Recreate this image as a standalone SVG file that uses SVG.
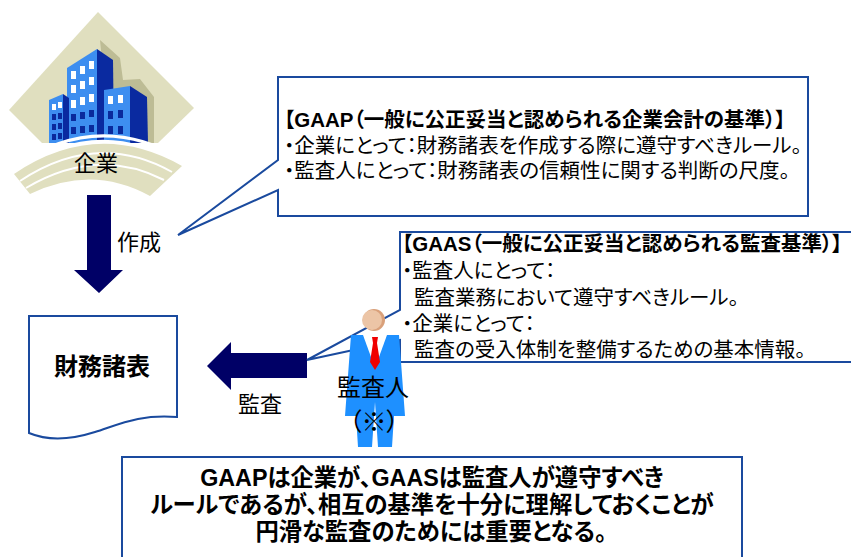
<svg xmlns="http://www.w3.org/2000/svg" width="851" height="557" viewBox="0 0 851 557">
  <style>
    text { font-family: "Liberation Sans", "Noto Sans CJK JP", sans-serif; fill: #000; font-feature-settings: "palt"; }
    .b { font-weight: bold; }
    .box { fill: #fff; stroke: #1a4a9e; stroke-width: 2; }
    .arrow { fill: #000066; }
    .cream { fill: #e0dfbf; }
    .shade { fill: #bdbc95; }
    .front { fill: #3d8ef0; }
    .side { fill: #0a2aa0; }
    .win { fill: #ffffff; }
    .wind { fill: #0a2a9c; }
    .callout { font-size: 20.5px; }
    .sum { font-size: 23.3px; }
  </style>

  <!-- company icon -->
  <g id="company">
    <polygon class="cream" points="98,12 194,108 158,143 42,143 9,110"/>
    <polygon class="shade" points="100,40 120,58 123,80 140,79 154,97 154,143 110,143"/>
    <!-- tall middle building -->
    <polygon class="side" points="97,49 113,60 114,143 97,143"/>
    <polygon class="front" points="67,68 97,49 97,143 67,143"/>
    <!-- small left building -->
    <polygon class="side" points="63,94 69,98 69,143 63,143"/>
    <polygon class="front" points="49,100 63,94 63,143 49,143"/>
    <!-- right building -->
    <polygon class="side" points="130,86 147,97 148,143 130,143"/>
    <polygon class="front" points="104,90 130,86 130,143 104,143"/>
    <!-- windows -->
    <g class="win">
      <rect x="71" y="71" width="5" height="8"/><rect x="80" y="66" width="5" height="8"/><rect x="89" y="61" width="5" height="8"/>
      <rect x="71" y="85" width="5" height="8"/><rect x="80" y="81" width="5" height="8"/><rect x="89" y="77" width="5" height="8"/>
      <rect x="71" y="100" width="5" height="8"/><rect x="80" y="97" width="5" height="8"/><rect x="89" y="94" width="5" height="8"/>
      <rect x="52" y="104" width="4" height="6"/><rect x="58" y="102" width="4" height="6"/>
      <rect x="108" y="96" width="5" height="8"/><rect x="118" y="95" width="5" height="8"/>
    </g>
    <g class="wind">
      <rect x="71" y="114" width="5" height="7"/><rect x="80" y="112" width="5" height="7"/><rect x="89" y="110" width="5" height="7"/>
      <rect x="71" y="127" width="5" height="7"/><rect x="80" y="126" width="5" height="7"/><rect x="89" y="125" width="5" height="7"/>
      <rect x="52" y="114" width="4" height="6"/><rect x="58" y="113" width="4" height="6"/>
      <rect x="52" y="124" width="4" height="6"/><rect x="58" y="123" width="4" height="6"/>
      <rect x="52" y="134" width="4" height="6"/><rect x="58" y="133" width="4" height="6"/>
      <rect x="108" y="111" width="5" height="8"/><rect x="118" y="110" width="5" height="8"/>
      <rect x="108" y="126" width="5" height="8"/><rect x="118" y="126" width="5" height="8"/>
    </g>
    <!-- sweeping base -->
    <path d="M12,172 Q97,112 182,164 L150,196 Q92,162 30,194 Z" fill="#fff"/>
    <path d="M14,174 Q97,118 182,166 L150,196 Q92,164 30,194 Z" class="cream"/>
    <path d="M20,181 Q97,130 172,172" fill="none" stroke="#fff" stroke-width="2"/>
    <path d="M26,188 Q97,146 164,180" fill="none" stroke="#fff" stroke-width="2"/>
    <path d="M12,168 Q97,108 184,160" fill="none" stroke="#fff" stroke-width="3"/>
    <text x="96" y="171" font-size="22" text-anchor="middle">企業</text>
  </g>

  <!-- connectors -->
  <g id="connectors">
    <polygon class="arrow" points="87,195 111,195 111,270 123,270 99,293 74,270 87,270"/>
    <text x="117" y="250" font-size="22">作成</text>
    <polygon class="arrow" points="307,353 307,378 231,378 231,390 207,366 231,342 231,353"/>
    <text x="238" y="412" font-size="22">監査</text>
  </g>

  <!-- financial statements document -->
  <g id="statements">
    <path class="box" d="M29,316 H177 V417 C140,414 120,424 95,432 C70,440 48,441 29,433 Z"/>
    <text class="b" x="102" y="375" font-size="24" text-anchor="middle">財務諸表</text>
  </g>

  <!-- GAAP callout -->
  <g id="gaap">
    <path class="box" d="M278,77 H808 V216 H278 V190 L178,235 L278,160 Z"/>
    <text class="callout b" x="284" y="127">【GAAP（一般に公正妥当と認められる企業会計の基準）】</text>
    <text class="callout" x="284" y="153">・企業にとって：財務諸表を作成する際に遵守すべきルール。</text>
    <text class="callout" x="284" y="178">・監査人にとって：財務諸表の信頼性に関する判断の尺度。</text>
  </g>

  <!-- GAAS callout -->
  <g id="gaas">
    <path class="box" d="M860,232 H400 V310 L307,360 L400,340 V362 H860"/>
    <text class="callout b" x="402" y="251">【GAAS（一般に公正妥当と認められる監査基準）】</text>
    <text class="callout" x="402" y="278">・監査人にとって：</text>
    <text class="callout" x="414" y="305">監査業務において遵守すべきルール。</text>
    <text class="callout" x="402" y="331">・企業にとって：</text>
    <text class="callout" x="414" y="357">監査の受入体制を整備するための基本情報。</text>
  </g>

  <!-- auditor figure -->
  <g id="auditor">
    <path d="M351,335 H399 L405,416 L394,416 L392,447 L378,447 L375,402 L372,447 L358,447 L356,416 L345,416 Z" fill="#1e90ff"/>
    <polygon points="363,335 387,335 375,368" fill="#fff"/>
    <polygon points="372,337 378,337 377,343 380,362 375,370 370,362 373,343" fill="#f00000"/>
    <circle cx="374" cy="320" r="11" fill="#d9a07a"/>
    <circle cx="372" cy="320" r="10" fill="#ecc5a6"/>
    <text x="373" y="396" font-size="24" text-anchor="middle">監査人</text>
    <text x="374" y="431" font-size="25" text-anchor="middle">（※）</text>
  </g>

  <!-- summary box -->
  <g id="summary">
    <rect class="box" x="122" y="457" width="620" height="110"/>
    <text class="sum b" x="432" y="486" text-anchor="middle">GAAPは企業が、GAASは監査人が遵守すべき</text>
    <text class="sum b" x="432" y="513" text-anchor="middle">ルールであるが、相互の基準を十分に理解しておくことが</text>
    <text class="sum b" x="431" y="540" text-anchor="middle">円滑な監査のためには重要となる。</text>
  </g>
</svg>
